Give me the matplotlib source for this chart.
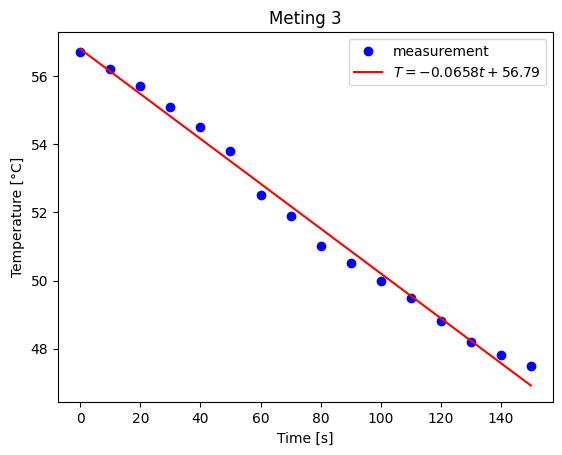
import numpy as np
import matplotlib
matplotlib.use("Agg")
import matplotlib.pyplot as plt

# meetdata
time = np.arange(0, 151, 10)
temperature = np.array([56.7, 56.2, 55.7, 55.1, 54.5, 53.8, 52.5, 51.9,
                        51.0, 50.5, 50.0, 49.5, 48.8, 48.2, 47.8, 47.5])

# fit parameters uit de legenda
slope = -0.0658
intercept = 56.79

W, H = 562, 455
fig = plt.figure(figsize=(W / 100, H / 100), dpi=100)
ax = fig.add_axes([57.8 / W, (H - 402.3) / H, 495.5 / W, 370 / H])
ax.plot(time, temperature, 'o', color='blue', label='measurement')
t_fit = np.array([time[0], time[-1]])
ax.plot(t_fit, slope * t_fit + intercept, color='red',
        label=r'$T = -0.0658t + 56.79$')
ax.set_title('Meting 3')
ax.set_xlabel('Time [s]')
ax.set_ylabel('Temperature [°C]')
ax.legend()
fig.savefig('out.png', dpi=100)
